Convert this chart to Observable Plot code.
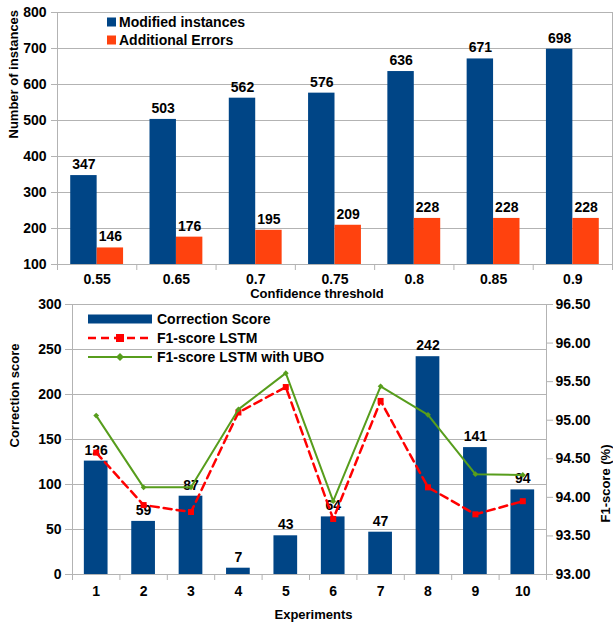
<!DOCTYPE html>
<html><head><meta charset="utf-8">
<script src="https://cdn.jsdelivr.net/npm/d3@7"></script>
<script src="https://cdn.jsdelivr.net/npm/@observablehq/plot@0.6"></script>
<style>
body{margin:0;background:#fff;font-family:"Liberation Sans",Arial,sans-serif;}
#wrap{position:relative;width:613px;height:633px;overflow:hidden;background:#fff;}
#wrap svg{display:block;}
.lg{position:absolute;display:flex;align-items:center;height:20px;font-weight:bold;font-size:14px;color:#000;white-space:nowrap;}
.lg svg{display:block;}
</style></head><body><div id="wrap"></div>
<script>
// ---- data: top chart ----
const thresholds = ["0.55","0.65","0.7","0.75","0.8","0.85","0.9"];
const modified = [347,503,562,576,636,671,698];
const additional = [146,176,195,209,228,228,228];
const seriesTop = ["Modified instances","Additional Errors"];
const topTicks = [100,200,300,400,500,600,700,800];

// ---- data: bottom chart ----
const experiments = ["1","2","3","4","5","6","7","8","9","10"];
const correction = [126,59,87,7,43,64,47,242,141,94];
const f1Lstm = [94.58,93.90,93.81,95.10,95.43,93.72,95.25,94.13,93.78,93.95];
const f1Ubo  = [95.06,94.13,94.13,95.14,95.61,93.95,95.44,95.07,94.30,94.29];
const seriesBottom = ["Correction Score","F1-score LSTM","F1-score LSTM with UBO"];
const leftTicks = [0,50,100,150,200,250,300];
const rightTicks = [93.0,93.5,94.0,94.5,95.0,95.5,96.0,96.5];

const BLUE="#004586", ORANGE="#ff420e", RED="#ff0000", GREEN="#579d1c", GRID="#b3b3b3";
const FONT="'Liberation Sans', Arial, sans-serif";
const wrap = document.getElementById("wrap");

// ---- top chart ----
const topRows = thresholds.flatMap((t,i)=>[
  {i, t, s: seriesTop[0], v: modified[i], a: i+1/6, b: i+0.5},
  {i, t, s: seriesTop[1], v: additional[i], a: i+0.5, b: i+5/6}
]);
const topChart = Plot.plot({
  width:613, height:298, marginLeft:57, marginRight:1, marginTop:12, marginBottom:34,
  style:{fontFamily:FONT, fontSize:"14px", fontWeight:"bold", color:"#000", background:"transparent", overflow:"visible", position:"relative", zIndex:1},
  x:{type:"linear", domain:[0, thresholds.length]},
  y:{domain:[topTicks[0], topTicks[topTicks.length-1]]},
  color:{domain:seriesTop, range:[BLUE, ORANGE]},
  marks:[
    Plot.gridY(topTicks,{stroke:GRID, strokeOpacity:1}),
    Plot.rectY(topRows,{x1:"a", x2:"b", y1:topTicks[0], y2:"v", fill:"s"}),
    Plot.frame({stroke:GRID}),
    Plot.axisY(topTicks,{tickSize:6, tickPadding:5, stroke:GRID, fill:"#000", label:null, fontSize:14}),
    Plot.axisX(d3.range(thresholds.length+1),{tickSize:6, tickFormat:()=>"", stroke:GRID, label:null}),
    Plot.axisX(d3.range(thresholds.length).map(i=>i+0.5),{tickSize:0, tickPadding:10, tickFormat:d=>thresholds[Math.floor(d)], fill:"#000", label:null, fontSize:14}),
    Plot.text(topRows,{x:d=>(d.a+d.b)/2, y:"v", text:d=>String(d.v), dy:-11, fill:"#000", fontSize:14}),
    Plot.text(["Confidence threshold"],{frameAnchor:"bottom", dy:33.5, dx:-18, fontSize:13, fill:"#000"}),
    Plot.text(["Number of instances"],{frameAnchor:"left", dx:-44, rotate:-90, fontSize:13, fill:"#000"})
  ]
});
wrap.appendChild(topChart);

// ---- bottom chart ----
const yMax = leftTicks[leftTicks.length-1];
const r0 = rightTicks[0], r1 = rightTicks[rightTicks.length-1];
const f2y = v => (v - r0) * yMax / (r1 - r0);
const y2f = y => r0 + y * (r1 - r0) / yMax;
const botRows = experiments.map((e,i)=>({i, e, c:correction[i], a:f1Lstm[i], b:f1Ubo[i]}));
const bottomChart = Plot.plot({
  width:613, height:335, marginLeft:72, marginRight:67, marginTop:6, marginBottom:59,
  style:{fontFamily:FONT, fontSize:"14px", fontWeight:"bold", color:"#000", background:"transparent", overflow:"visible"},
  x:{type:"linear", domain:[0, experiments.length]},
  y:{domain:[0, yMax]},
  marks:[
    Plot.gridY(leftTicks,{stroke:GRID, strokeOpacity:1}),
    Plot.rectY(botRows,{x1:d=>d.i+0.25, x2:d=>d.i+0.75, y1:0, y2:"c", fill:BLUE}),
    Plot.frame({stroke:GRID}),
    Plot.axisY(leftTicks,{tickSize:7, tickPadding:4, stroke:GRID, fill:"#000", label:null, fontSize:14}),
    Plot.axisY(rightTicks.map(f2y),{anchor:"right", tickSize:6, tickPadding:3, stroke:GRID, fill:"#000", label:null, fontSize:14, tickFormat:d=>y2f(d).toFixed(2)}),
    Plot.axisX(d3.range(experiments.length+1),{tickSize:6, tickFormat:()=>"", stroke:GRID, label:null}),
    Plot.axisX(d3.range(experiments.length).map(i=>i+0.5),{tickSize:0, tickPadding:12, tickFormat:d=>experiments[Math.floor(d)], fill:"#000", label:null, fontSize:14}),
    Plot.text(botRows,{x:d=>d.i+0.5, y:"c", text:d=>String(d.c), dy:-11, fill:"#000", fontSize:14}),
    Plot.line(botRows,{x:d=>d.i+0.5, y:d=>f2y(d.a), stroke:RED, strokeWidth:2.5, strokeDasharray:"8,5"}),
    Plot.dot(botRows,{x:d=>d.i+0.5, y:d=>f2y(d.a), symbol:"square", fill:RED, r:3.4}),
    Plot.line(botRows,{x:d=>d.i+0.5, y:d=>f2y(d.b), stroke:GREEN, strokeWidth:2}),
    Plot.dot(botRows,{x:d=>d.i+0.5, y:d=>f2y(d.b), symbol:"diamond2", fill:GREEN, r:2.6}),
    Plot.text(["Experiments"],{frameAnchor:"bottom", dy:44, dx:4, fontSize:13, fill:"#000"}),
    Plot.text(["Correction score"],{frameAnchor:"left", dx:-58, dy:8, rotate:-90, fontSize:13, fill:"#000"}),
    Plot.text(["F1-score (%)"],{frameAnchor:"right", dx:59, dy:5, rotate:-90, fontSize:13, fill:"#000"})
  ]
});
wrap.appendChild(bottomChart);

// ---- legends (HTML overlays) ----
function row(left, cy, w, svgInner, label, gap){
  const d = document.createElement("div");
  d.className = "lg";
  d.style.left = left + "px";
  d.style.top = (cy - 10) + "px";
  d.style.zIndex = 2;
  d.innerHTML = `<svg width="${w}" height="20" style="margin-right:${gap}px">${svgInner}</svg><span>${label}</span>`;
  wrap.appendChild(d);
}
row(106, 21.5, 10, `<rect x="1" y="5.5" width="9" height="9" fill="${BLUE}"/>`, seriesTop[0], 3);
row(106, 39.5, 10, `<rect x="1" y="5.5" width="9" height="9" fill="${ORANGE}"/>`, seriesTop[1], 3);
row(88, 318.5, 64, `<rect x="0" y="5.5" width="64" height="9" fill="${BLUE}"/>`, seriesBottom[0], 5);
row(88, 338, 64, `<line x1="0" y1="10" x2="64" y2="10" stroke="${RED}" stroke-width="2.5" stroke-dasharray="8,5"/><rect x="28" y="6" width="8" height="8" fill="${RED}"/>`, seriesBottom[1], 5);
row(88, 357, 64, `<line x1="0" y1="10" x2="64" y2="10" stroke="${GREEN}" stroke-width="2"/><path d="M32,6L36,10L32,14L28,10Z" fill="${GREEN}"/>`, seriesBottom[2], 5);
</script></body></html>
